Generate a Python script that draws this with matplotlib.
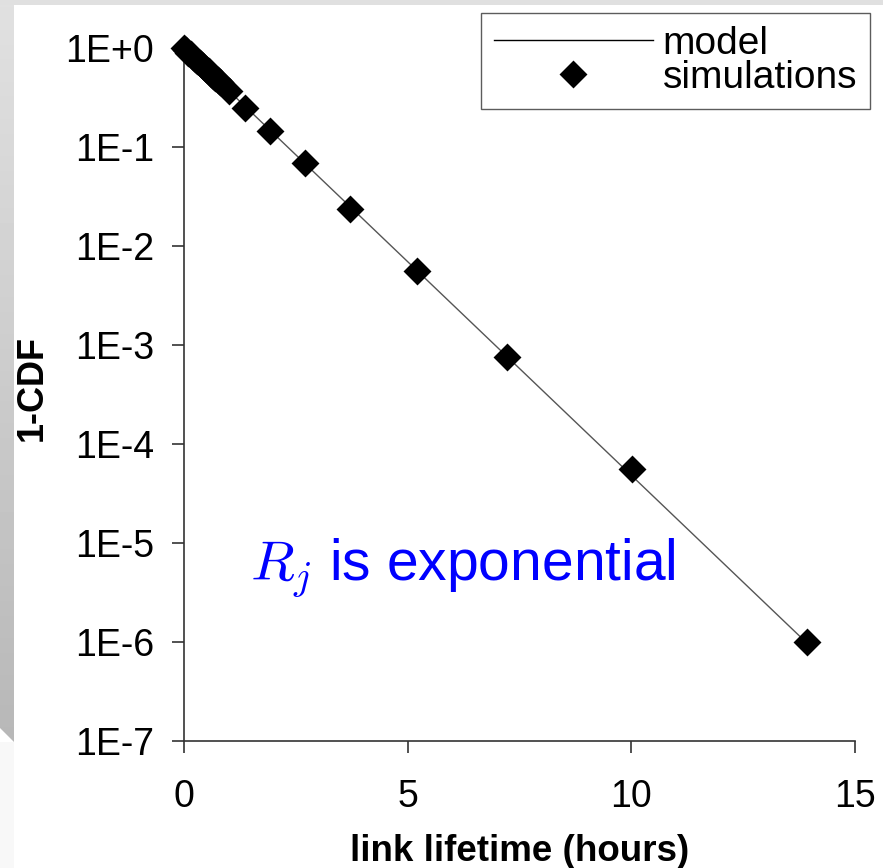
import matplotlib
matplotlib.use("Agg")
import matplotlib.pyplot as plt
from matplotlib.patches import Rectangle, Polygon
import numpy as np

plt.rcParams['font.family'] = ['Liberation Sans', 'DejaVu Sans']
plt.rcParams['mathtext.fontset'] = 'cm'

# data
model_x = [0.0, 13.9]
model_y = [1.0, 1.0e-6]

sim_x = [0.0, 0.05, 0.1, 0.15, 0.2, 0.25, 0.3, 0.35, 0.4, 0.45, 0.5, 0.55,
         0.6, 0.65, 0.7, 0.75, 0.8, 1.0, 1.36, 1.92, 2.7, 3.71, 5.21, 7.22,
         10.02, 13.93]
sim_y = [1.0, 0.95, 0.90, 0.86, 0.82, 0.78, 0.74, 0.70, 0.67, 0.64, 0.61,
         0.58, 0.55, 0.52, 0.50, 0.47, 0.45, 0.37, 0.248, 0.145, 0.069,
         0.0237, 0.0056, 7.6e-4, 5.6e-5, 1.0e-6]

x_ticks = [0, 5, 10, 15]
y_ticks = [1e0, 1e-1, 1e-2, 1e-3, 1e-4, 1e-5, 1e-6, 1e-7]
y_ticklabels = ['1E+0', '1E-1', '1E-2', '1E-3', '1E-4', '1E-5', '1E-6', '1E-7']

W, H = 883, 868
fig = plt.figure(figsize=(W / 100, H / 100), dpi=100)
fig.patch.set_facecolor('white')

# slide background decoration
bg = fig.add_axes([0, 0, 1, 1], zorder=-5)
bg.set_xlim(0, W)
bg.set_ylim(H, 0)
bg.axis('off')
bg.add_patch(Rectangle((0, 0), W, 5, color='#e0e0e0', lw=0))
grad = np.linspace(0.88, 0.72, 100).reshape(-1, 1)
im = bg.imshow(grad, cmap='gray', vmin=0, vmax=1, extent=[0, 14, 742, 0],
               aspect='auto')
strip = Polygon([(0, 0), (14, 0), (14, 742), (0, 728)], closed=True,
                transform=bg.transData, facecolor='none', lw=0)
bg.add_patch(strip)
im.set_clip_path(strip)
bg.add_patch(Rectangle((0, 742), 14, H - 742, color='#f8f8f8', lw=0))

ax = fig.add_axes([184 / W, 1 - 741 / H, (855 - 184) / W, (741 - 48) / H])
ax.set_facecolor('none')

ax.plot(model_x, model_y, color='#555555', lw=1.0, label='model', zorder=2)
ax.plot(sim_x, sim_y, ls='none', marker='D', ms=12.5, mew=2, color='black',
        markerfacecolor='black', markeredgecolor='black', label='simulations',
        zorder=3, clip_on=False)

ax.set_yscale('log')
ax.set_xlim(0, 15)
ax.set_ylim(1e-7, 1)
ax.set_xticks(x_ticks)
ax.set_xticklabels([str(v) for v in x_ticks])
ax.set_yticks(y_ticks)
ax.set_yticklabels(y_ticklabels)
ax.yaxis.set_minor_locator(matplotlib.ticker.NullLocator())

for s in ['top', 'right']:
    ax.spines[s].set_visible(False)
for s in ['left', 'bottom']:
    ax.spines[s].set_color('#333333')
    ax.spines[s].set_linewidth(1.2)

ax.tick_params(axis='both', direction='out', length=8.6, width=1.2,
               color='#333333', labelsize=27)
ax.tick_params(axis='y', pad=13)
ax.tick_params(axis='x', pad=19)

ax.set_xlabel('link lifetime (hours)', fontsize=26.5, fontweight='bold')
ax.set_ylabel('1-CDF', fontsize=26, fontweight='bold')
ax.xaxis.set_label_coords(0.5, -0.134)
ax.yaxis.set_label_coords(-0.2, 0.51)

ax.text(0.098, 0.232, r'$R_j$ is exponential', transform=ax.transAxes,
        fontsize=41, color='#0000ff', va='baseline', ha='left')

leg = ax.legend(loc='upper right', bbox_to_anchor=(870 / W, 1 - 13 / H),
                bbox_transform=fig.transFigure, borderaxespad=0,
                fontsize=28, frameon=True, fancybox=False, shadow=False,
                handlelength=4.1, handletextpad=0.25, labelspacing=-0.05,
                borderpad=0.33)
leg.get_frame().set_edgecolor('#333333')
leg.get_frame().set_linewidth(1.0)
leg.legend_handles[0].set_color('black')

fig.savefig('out.png', dpi=100, facecolor=fig.get_facecolor())
